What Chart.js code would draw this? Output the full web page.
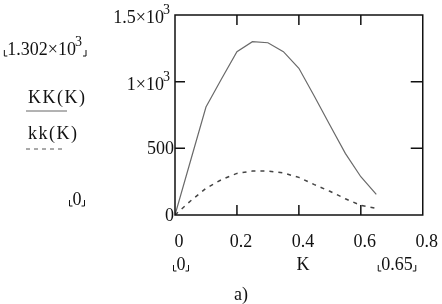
<!DOCTYPE html>
<html>
<head>
<meta charset="utf-8">
<script src="https://cdn.jsdelivr.net/npm/chart.js@4"></script>
<style>
  html, body { margin: 0; padding: 0; background: #fff; }
  #wrap { width: 442px; height: 304px; }
</style>
</head>
<body>
<div id="wrap"><canvas id="plot" width="442" height="304"></canvas></div>
<script>
// values
const K = [0, 0.05, 0.1, 0.15, 0.2, 0.25, 0.3, 0.35, 0.4, 0.45, 0.5, 0.55, 0.6, 0.65];
const KK = [0, 405, 810, 1020, 1225, 1300, 1292, 1225, 1100, 890, 675, 462, 287, 155];
const kk = [0, 105, 200, 265, 312, 330, 330, 315, 282, 228, 178, 122, 72, 50];
const xTicks = [0, 0.2, 0.4, 0.6, 0.8];
const yTicks = [0, 500, 1000, 1500];

const FONT = '"Liberation Serif", "Times New Roman", serif';

function pts(ys) {
  return K.map((k, i) => ({ x: k, y: ys[i] }));
}

// "a×10" with a raised 3, right end at x; returns left edge
function sci(ctx, mant, right, base) {
  ctx.font = '14px ' + FONT;
  const ws = ctx.measureText('3').width;
  ctx.textAlign = 'right';
  ctx.fillText('3', right, base - 9);
  ctx.font = '18px ' + FONT;
  const txt = mant + '\u00d710';
  ctx.fillText(txt, right - ws + 1, base);
  return right - ws + 1 - ctx.measureText(txt).width;
}

function marks(ctx, l, r, base) {
  ctx.beginPath();
  ctx.moveTo(l, base - 5); ctx.lineTo(l, base + 1); ctx.lineTo(l + 3, base + 1);
  ctx.moveTo(r, base - 5); ctx.lineTo(r, base + 1); ctx.lineTo(r - 3, base + 1);
  ctx.stroke();
}

// Mathcad style little corner marks round a number
function bracketed(ctx, text, cx, base) {
  ctx.textAlign = 'center';
  ctx.fillText(text, cx, base);
  const w = ctx.measureText(text).width;
  marks(ctx, cx - w / 2 - 3, cx + w / 2 + 3, base);
}

const frame = {
  id: 'frame',
  afterDraw(chart) {
    const ctx = chart.ctx;
    const a = chart.chartArea;
    const xs = chart.scales.x, ys = chart.scales.y;
    ctx.save();
    ctx.strokeStyle = '#111';
    ctx.lineWidth = 1.5;
    ctx.strokeRect(a.left, a.top, a.right - a.left, a.bottom - a.top);
    ctx.beginPath();
    xTicks.slice(1, -1).forEach(v => {
      const px = xs.getPixelForValue(v);
      ctx.moveTo(px, a.bottom); ctx.lineTo(px, a.bottom - 10);
      ctx.moveTo(px, a.top); ctx.lineTo(px, a.top + 10);
    });
    yTicks.slice(1, -1).forEach(v => {
      const py = ys.getPixelForValue(v);
      ctx.moveTo(a.left, py); ctx.lineTo(a.left + 10, py);
      ctx.moveTo(a.right, py); ctx.lineTo(a.right - 12, py);
    });
    ctx.stroke();

    ctx.fillStyle = '#111';
    ctx.strokeStyle = '#111';
    ctx.lineWidth = 1;
    ctx.textBaseline = 'alphabetic';

    // y tick labels
    yTicks.forEach(v => {
      const py = ys.getPixelForValue(v);
      if (v >= 1000) {
        sci(ctx, String(v / 1000), a.left - 5, py + 8);
      } else {
        ctx.font = '18px ' + FONT;
        ctx.textAlign = 'right';
        ctx.fillText(String(v), a.left - 1, py + 6);
      }
    });

    // side labels
    const l = sci(ctx, '1.302', 82, 55);
    marks(ctx, l - 3, 86, 55);
    ctx.font = '18px ' + FONT;
    ctx.textAlign = 'left';
    ctx.letterSpacing = '1.5px';
    ctx.fillText('KK(K)', 28, 103);
    ctx.fillText('kk(K)', 28, 139);
    ctx.letterSpacing = '0px';
    bracketed(ctx, '0', 77, 205);

    ctx.strokeStyle = '#666';
    ctx.lineWidth = 1;
    ctx.beginPath(); ctx.moveTo(26, 111); ctx.lineTo(67, 111); ctx.stroke();
    ctx.strokeStyle = '#555';
    ctx.setLineDash([4, 4]);
    ctx.beginPath(); ctx.moveTo(26, 149); ctx.lineTo(62, 149); ctx.stroke();
    ctx.setLineDash([]);

    // under the axis
    ctx.strokeStyle = '#111';
    bracketed(ctx, '0', 181, 270);
    ctx.textAlign = 'center';
    ctx.fillText('K', 303, 270);
    bracketed(ctx, '0.65', 397, 270);
    ctx.fillText('a)', 241, 300);
    ctx.restore();
  }
};

new Chart(document.getElementById('plot'), {
  type: 'line',
  data: {
    datasets: [
      {
        label: 'KK(K)',
        data: pts(KK),
        borderColor: '#6a6a6a',
        borderWidth: 1.2,
        pointRadius: 0,
        tension: 0,
        fill: false
      },
      {
        label: 'kk(K)',
        data: pts(kk),
        borderColor: '#444',
        borderWidth: 1.5,
        borderDash: [4, 5],
        pointRadius: 0,
        tension: 0,
        fill: false
      }
    ]
  },
  options: {
    responsive: false,
    animation: false,
    layout: { padding: { left: 0, right: 17, top: 15, bottom: 0 } },
    plugins: { legend: { display: false }, tooltip: { enabled: false } },
    scales: {
      x: {
        type: 'linear',
        min: 0,
        max: 0.8,
        afterFit: s => { s.height = 89; },
        afterBuildTicks: s => { s.ticks = xTicks.map(v => ({ value: v })); },
        grid: { display: false },
        border: { display: false },
        ticks: {
          color: '#111',
          font: { family: FONT, size: 18 },
          padding: 8,
          labelOffset: 4,
          maxRotation: 0,
          callback: v => String(v)
        }
      },
      y: {
        min: 0,
        max: 1500,
        afterFit: s => { s.width = 175; },
        afterBuildTicks: s => { s.ticks = yTicks.map(v => ({ value: v })); },
        grid: { display: false },
        border: { display: false },
        ticks: { display: false }
      }
    }
  },
  plugins: [frame]
});
</script>
</body>
</html>
